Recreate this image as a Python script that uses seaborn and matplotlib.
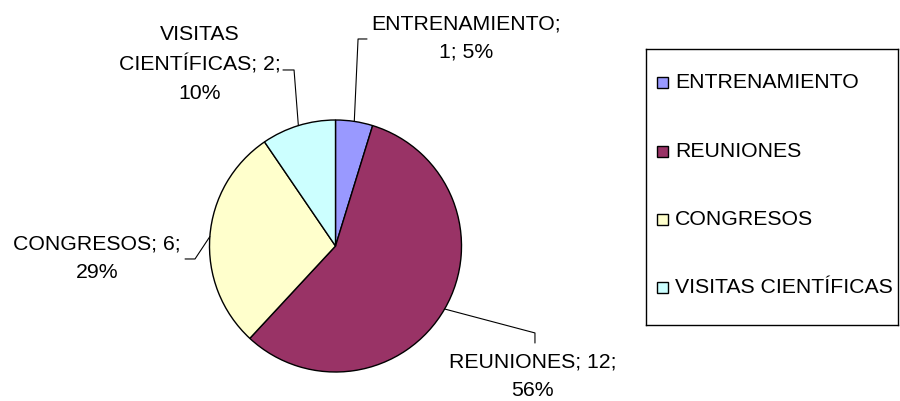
import numpy as np
import matplotlib
matplotlib.use("Agg")
import matplotlib.pyplot as plt
import seaborn as sns
from matplotlib.patches import Rectangle

# datos
categorias = ["ENTRENAMIENTO", "REUNIONES", "CONGRESOS", "VISITAS CIENTÍFICAS"]
valores = [1, 12, 6, 2]
porcentajes = [5, 56, 29, 10]
colores = ["#9999FF", "#993366", "#FFFFCC", "#CCFFFF"]

# como se parte cada etiqueta en lineas
nombres_cortados = ["ENTRENAMIENTO", "REUNIONES", "CONGRESOS", "VISITAS\nCIENTÍFICAS"]
salto_tras_nombre = [True, False, False, False]

sns.set_theme(style="white")
plt.rcParams["font.family"] = ["Liberation Sans", "DejaVu Sans"]
FS = 15.3

W, H = 900, 401
fig = plt.figure(figsize=(W / 100, H / 100), dpi=100)
fig.patch.set_facecolor("white")

# pastel: centro (335.5, 246) px, radio 126 px
cx, cy, r = 335.5, 246, 126
ax = fig.add_axes([(cx - r) / W, (H - cy - r) / H, 2 * r / W, 2 * r / H])
paleta = sns.color_palette(colores)
wedges, _ = ax.pie(valores, colors=paleta, startangle=90, counterclock=False,
                   wedgeprops=dict(edgecolor="black", linewidth=1.0))
ax.set_aspect("auto")
ax.set_xlim(-1, 1)
ax.set_ylim(-1, 1)
ax.axis("off")

# codos de las lineas guia y centro del texto (unidades del pastel)
codos = [[(0.179, 1.643), (0.25, 1.643)],
         [(1.583, -0.690), (1.583, -0.770)],
         [(-1.115, -0.103), (-1.194, -0.103)],
         [(-0.329, 1.397), (-0.417, 1.397)]]
pos_texto = [(1.036, 1.651), (1.567, -1.032), (-1.893, -0.095), (-1.075, 1.444)]

for w, nombre, n, p, codo, pt, salto in zip(wedges, nombres_cortados, valores,
                                           porcentajes, codos, pos_texto, salto_tras_nombre):
    ang = np.deg2rad((w.theta1 + w.theta2) / 2)
    x0, y0 = np.cos(ang), np.sin(ang)
    xs = [x0] + [c[0] for c in codo]
    ys = [y0] + [c[1] for c in codo]
    ax.plot(xs, ys, color="black", lw=0.8, clip_on=False)
    if salto:
        txt = f"{nombre};\n{n}; {p}%"
    else:
        txt = f"{nombre}; {n};\n{p}%"
    ax.text(pt[0], pt[1], txt, ha="center", va="center", multialignment="center",
            fontsize=FS, color="black", linespacing=1.62, clip_on=False)

# leyenda dibujada a mano en un eje con unidades de pixel
lx0, ly0, lx1, ly1 = 646, 49, 898, 325
lax = fig.add_axes([lx0 / W, (H - ly1) / H, (lx1 - lx0) / W, (ly1 - ly0) / H])
lax.set_xlim(lx0, lx1)
lax.set_ylim(ly1, ly0)
lax.set_xticks([])
lax.set_yticks([])
for s in lax.spines.values():
    s.set_visible(True)
    s.set_color("black")
    s.set_linewidth(1.0)

fila0, paso = 83, 68.3
for i, (cat, col) in enumerate(zip(categorias, paleta)):
    y = fila0 + i * paso
    lax.add_patch(Rectangle((657, y - 5.5), 11, 11, facecolor=col, edgecolor="black", lw=1.0))
    lax.text(675, y, cat, ha="left", va="center", fontsize=FS, color="black")

fig.savefig("out.png", dpi=100, facecolor="white")
